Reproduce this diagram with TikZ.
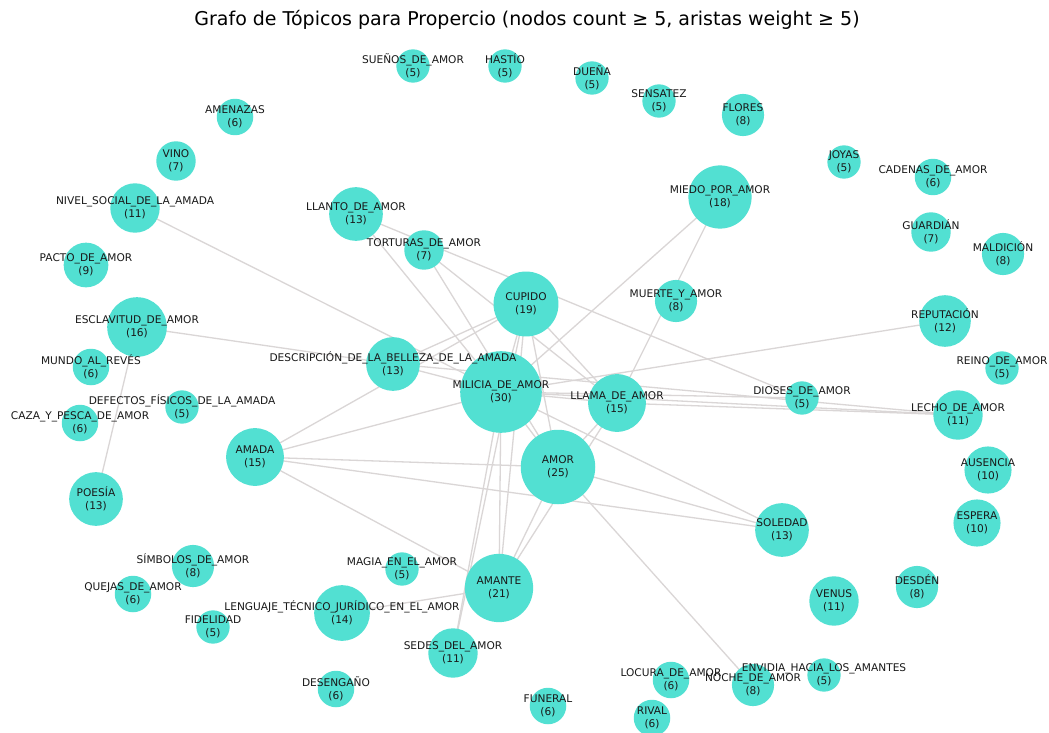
\documentclass[tikz,border=0pt]{standalone}
\usepackage{fontspec}
\setmainfont{DejaVu Sans}
\usetikzlibrary{backgrounds}
\definecolor{turq}{RGB}{82,224,210}
\definecolor{edgegray}{RGB}{218,214,214}
\definecolor{txt}{RGB}{25,25,25}
% one circle per topic, its area proportional to the count
\newcommand\topic[4]{%
  \node[topicnode, minimum size={2*7.45*sqrt(#4)}] (#1) at (#2,#3) {};}
% two-line label: topic name and its count
\newcommand\tname[3]{%
  \node[lbl] (#1-l) at (#1) {#2\\(#3)};}
\begin{document}
\begin{tikzpicture}[x=1pt,y=-1pt,
  topicnode/.style={circle, fill=turq, draw=none, inner sep=0pt},
  lbl/.style={align=center, inner sep=0pt, text=txt,
    font=\fontsize{10.6}{13.5}\selectfont},
  edge/.style={draw=edgegray, line width=1.3pt},
  ttl/.style={inner sep=0pt, text=black, font=\fontsize{19}{22}\selectfont}]
\useasboundingbox (0,0) rectangle (1049,733);

\node[ttl] (title) at (527,20) {Grafo de Tópicos para Propercio (nodos count ≥ 5, aristas weight ≥ 5)};

% circles
\topic{sue}{413}{66}{5}
\topic{has}{505}{66}{5}
\topic{due}{592}{78}{5}
\topic{sen}{659}{101}{5}
\topic{flo}{743}{115}{8}
\topic{ame}{235}{117}{6}
\topic{vin}{176}{161}{7}
\topic{joy}{844}{162}{5}
\topic{cad}{933}{177}{6}
\topic{mie}{720}{197}{18}
\topic{niv}{135}{208}{11}
\topic{lla}{356}{214}{13}
\topic{gua}{931}{232}{7}
\topic{tor}{424}{250}{7}
\topic{mal}{1003}{254}{8}
\topic{pac}{86}{265}{9}
\topic{cup}{526}{304}{19}
\topic{mue}{676}{301}{8}
\topic{esc}{137}{327}{16}
\topic{rep}{945}{321}{12}
\topic{des}{393}{364}{13}
\topic{mun}{91}{367}{6}
\topic{rei}{1002}{368}{5}
\topic{mil}{501}{392}{30}
\topic{llm}{617}{403}{15}
\topic{dio}{802}{398}{5}
\topic{def}{182}{407}{5}
\topic{caz}{80}{423}{6}
\topic{lec}{958}{415}{11}
\topic{amd}{255}{457}{15}
\topic{amo}{558}{467}{25}
\topic{aus}{988}{470}{10}
\topic{poe}{96}{499}{13}
\topic{esp}{977}{523}{10}
\topic{sol}{782}{530}{13}
\topic{sim}{193}{566}{8}
\topic{mag}{402}{569}{5}
\topic{amt}{499}{588}{21}
\topic{que}{133}{594}{6}
\topic{ven}{834}{601}{11}
\topic{dsd}{917}{587}{8}
\topic{len}{342}{613}{14}
\topic{fid}{213}{627}{5}
\topic{sed}{453}{653}{11}
\topic{dsg}{336}{689}{6}
\topic{fun}{548}{706}{6}
\topic{loc}{671}{680}{6}
\topic{noc}{753}{685}{8}
\topic{env}{824}{675}{5}
\topic{riv}{652}{718}{6}

% labels, set over every circle
\tname{sue}{SUEÑOS\_DE\_AMOR}{5}
\tname{has}{HASTÍO}{5}
\tname{due}{DUEÑA}{5}
\tname{sen}{SENSATEZ}{5}
\tname{flo}{FLORES}{8}
\tname{ame}{AMENAZAS}{6}
\tname{vin}{VINO}{7}
\tname{joy}{JOYAS}{5}
\tname{cad}{CADENAS\_DE\_AMOR}{6}
\tname{mie}{MIEDO\_POR\_AMOR}{18}
\tname{niv}{NIVEL\_SOCIAL\_DE\_LA\_AMADA}{11}
\tname{lla}{LLANTO\_DE\_AMOR}{13}
\tname{gua}{GUARDIÁN}{7}
\tname{tor}{TORTURAS\_DE\_AMOR}{7}
\tname{mal}{MALDICIÓN}{8}
\tname{pac}{PACTO\_DE\_AMOR}{9}
\tname{cup}{CUPIDO}{19}
\tname{mue}{MUERTE\_Y\_AMOR}{8}
\tname{esc}{ESCLAVITUD\_DE\_AMOR}{16}
\tname{rep}{REPUTACIÓN}{12}
\tname{des}{DESCRIPCIÓN\_DE\_LA\_BELLEZA\_DE\_LA\_AMADA}{13}
\tname{mun}{MUNDO\_AL\_REVÉS}{6}
\tname{rei}{REINO\_DE\_AMOR}{5}
\tname{mil}{MILICIA\_DE\_AMOR}{30}
\tname{llm}{LLAMA\_DE\_AMOR}{15}
\tname{dio}{DIOSES\_DE\_AMOR}{5}
\tname{def}{DEFECTOS\_FÍSICOS\_DE\_LA\_AMADA}{5}
\tname{caz}{CAZA\_Y\_PESCA\_DE\_AMOR}{6}
\tname{lec}{LECHO\_DE\_AMOR}{11}
\tname{amd}{AMADA}{15}
\tname{amo}{AMOR}{25}
\tname{aus}{AUSENCIA}{10}
\tname{poe}{POESÍA}{13}
\tname{esp}{ESPERA}{10}
\tname{sol}{SOLEDAD}{13}
\tname{sim}{SÍMBOLOS\_DE\_AMOR}{8}
\tname{mag}{MAGIA\_EN\_EL\_AMOR}{5}
\tname{amt}{AMANTE}{21}
\tname{que}{QUEJAS\_DE\_AMOR}{6}
\tname{ven}{VENUS}{11}
\tname{dsd}{DESDÉN}{8}
\tname{len}{LENGUAJE\_TÉCNICO\_JURÍDICO\_EN\_EL\_AMOR}{14}
\tname{fid}{FIDELIDAD}{5}
\tname{sed}{SEDES\_DEL\_AMOR}{11}
\tname{dsg}{DESENGAÑO}{6}
\tname{fun}{FUNERAL}{6}
\tname{loc}{LOCURA\_DE\_AMOR}{6}
\tname{noc}{NOCHE\_DE\_AMOR}{8}
\tname{env}{ENVIDIA\_HACIA\_LOS\_AMANTES}{5}
\tname{riv}{RIVAL}{6}

% white page and edges, kept behind the circles
\begin{pgfonlayer}{background}
\fill[white] (0,0) rectangle (1049,733);
\foreach \a/\b in {niv/mil, esc/des, esc/poe, lla/mil, lla/dio, tor/amo,
  tor/llm, cup/des, amd/cup, amd/mil, amd/amo, amd/sol, amd/amt,
  des/mil, des/lec, mil/llm, mil/lec, mil/dio, llm/lec, mil/rep,
  mie/mil, mie/llm, cup/llm, mil/sol, amo/sol, amo/noc, llm/amo,
  llm/amt, amo/amt, mil/amo, mil/amt, cup/amt, mil/sed, cup/sed,
  len/amt, cup/mil, cup/amo}
  \draw[edge] (\a.center) -- (\b.center);
\end{pgfonlayer}
\end{tikzpicture}
\end{document}
